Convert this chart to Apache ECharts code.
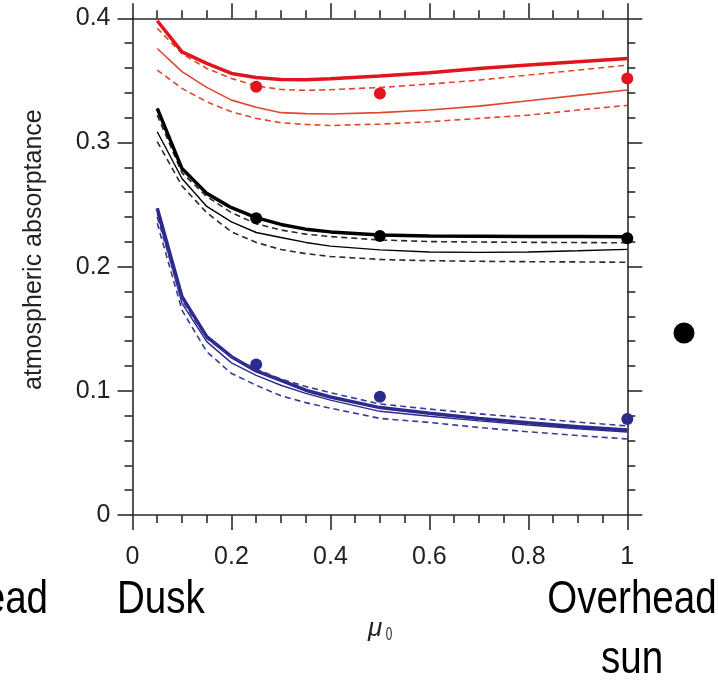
<!DOCTYPE html>
<html>
<head>
<meta charset="utf-8">
<script src="https://cdn.jsdelivr.net/npm/echarts@6/dist/echarts.min.js"></script>
<style>
html,body{margin:0;padding:0;background:#fff;}
#c{width:718px;height:680px;}
</style>
</head>
<body>
<div id="c"></div>
<script>
// x positions (mu_0) of model curves
var muX = [0.05, 0.1, 0.15, 0.2, 0.25, 0.3, 0.35, 0.4, 0.5, 0.6, 0.7, 0.8, 0.9, 1.0];
// observation points
var obsX = [0.25, 0.5, 1.0];

// red group
var redThick   = [0.398, 0.373, 0.3637, 0.3556, 0.3524, 0.3508, 0.3505, 0.3513, 0.3535, 0.3561, 0.3596, 0.3623, 0.365, 0.3677];
var redDashHi  = [0.392, 0.3715, 0.3596, 0.3516, 0.3455, 0.3427, 0.342, 0.3425, 0.3443, 0.347, 0.3502, 0.3543, 0.3583, 0.3623];
var redThin    = [0.3757, 0.357, 0.3444, 0.3341, 0.3283, 0.324, 0.3232, 0.3229, 0.324, 0.3261, 0.3293, 0.3336, 0.3379, 0.3422];
var redDashLo  = [0.3583, 0.3436, 0.3328, 0.3247, 0.3194, 0.3159, 0.3145, 0.3137, 0.3148, 0.3167, 0.3194, 0.322, 0.3261, 0.3299];
var redObs     = [0.3449, 0.3395, 0.3516];

// black group
var blkThick   = [0.3275, 0.279, 0.259, 0.2475, 0.2395, 0.234, 0.2302, 0.228, 0.2254, 0.2246, 0.2244, 0.2242, 0.2242, 0.224];
var blkDashHi  = [0.322, 0.2755, 0.2565, 0.2435, 0.2345, 0.2295, 0.2262, 0.2242, 0.2215, 0.2202, 0.2198, 0.2196, 0.2194, 0.2192];
var blkThin    = [0.3086, 0.271, 0.2485, 0.236, 0.2275, 0.2235, 0.2195, 0.2165, 0.2135, 0.2118, 0.2115, 0.2118, 0.2128, 0.2139];
var blkDashLo  = [0.3006, 0.265, 0.2435, 0.228, 0.2195, 0.2138, 0.2105, 0.2082, 0.2058, 0.2048, 0.2043, 0.204, 0.2038, 0.2035];
var blkObs     = [0.2389, 0.2246, 0.2228];

// blue group
var bluThick   = [0.247, 0.1758, 0.1436, 0.1275, 0.116, 0.1085, 0.1005, 0.095, 0.0865, 0.0819, 0.0778, 0.0743, 0.0711, 0.0684];
var bluDashHi  = [0.240, 0.1731, 0.142, 0.1275, 0.1175, 0.1095, 0.1035, 0.0985, 0.0894, 0.0853, 0.0815, 0.0782, 0.0748, 0.0717];
var bluThin    = [0.243, 0.1705, 0.1396, 0.1225, 0.1125, 0.1045, 0.098, 0.0925, 0.0835, 0.0795, 0.0758, 0.0725, 0.0695, 0.0668];
var bluDashLo  = [0.2349, 0.165, 0.1315, 0.114, 0.1045, 0.096, 0.0905, 0.086, 0.0778, 0.0745, 0.0705, 0.067, 0.064, 0.0612];
var bluObs     = [0.1213, 0.0953, 0.0773];

var xTicks = [0, 0.2, 0.4, 0.6, 0.8, 1];
var yTicks = [0, 0.1, 0.2, 0.3, 0.4];

function pairs(xs, ys){ return xs.map(function(x,i){ return [x, ys[i]]; }); }

function lineS(name, ys, color, width, dash, z){
  return {
    name: name, type: 'line', data: pairs(muX, ys), showSymbol: false, symbol: 'none',
    smooth: false, z: z, silent: true,
    lineStyle: { color: color, width: width, type: dash ? [6,4] : 'solid', opacity: 1 }
  };
}
function dotS(name, ys, color){
  return {
    name: name, type: 'scatter', data: pairs(obsX, ys), symbol: 'circle', symbolSize: 12, z: 10,
    itemStyle: { color: color, opacity: 1 }
  };
}

var RED = '#e2141c', RED2 = '#e0482a', BLK = '#000000', BLK2 = '#2a2a2a', BLU = '#2c2a8c', BLU2 = '#3b3a99';
var axisColor = '#2a2a2a';
var sans = "'Liberation Sans', Arial, Helvetica, sans-serif";

function xAx(pos, showLabel){
  return {
    type: 'value', position: pos, min: 0, max: 1, interval: 0.2,
    axisLine: { show: true, onZero: false, lineStyle: { color: axisColor, width: 1.6 } },
    axisTick: { show: true, inside: false, length: 15, lineStyle: { color: axisColor, width: 1.6 } },
    minorTick: { show: true, splitNumber: 4, length: 8, lineStyle: { color: axisColor, width: 1.6 } },
    splitLine: { show: false },
    axisLabel: { show: showLabel, margin: 30, fontSize: 25, color: '#222', fontFamily: sans }
  };
}
function yAx(pos, showLabel){
  return {
    type: 'value', position: pos, min: 0, max: 0.4, interval: 0.1,
    axisLine: { show: true, onZero: false, lineStyle: { color: axisColor, width: 1.6 } },
    axisTick: { show: true, inside: false, length: 15, lineStyle: { color: axisColor, width: 1.6 } },
    minorTick: { show: true, splitNumber: 5, length: 8, lineStyle: { color: axisColor, width: 1.6 } },
    splitLine: { show: false },
    axisLabel: { show: showLabel, margin: 22, fontSize: 25, color: '#222', fontFamily: sans },
    name: showLabel ? 'atmospheric absorptance' : '', nameLocation: 'middle', nameGap: 86,
    nameTextStyle: { fontSize: 25, color: '#222', fontFamily: sans, padding: [0,0,0,34] }
  };
}

var chart = echarts.init(document.getElementById('c'), null, { renderer: 'canvas' });
chart.setOption({
  backgroundColor: '#ffffff',
  animation: false,
  grid: { left: 132.5, right: 90.7, top: 18.3, bottom: 165, containLabel: false, outerBoundsMode: 'none' },
  xAxis: [ xAx('bottom', true), xAx('top', false) ],
  yAxis: [ yAx('left', true), yAx('right', false) ],
  series: [
    lineS('red dashed low', redDashLo, RED2, 1.6, true, 2),
    lineS('red thin', redThin, RED2, 1.6, false, 3),
    lineS('red dashed high', redDashHi, RED2, 1.6, true, 2),
    lineS('red thick', redThick, RED, 3.5, false, 4),
    lineS('black dashed low', blkDashLo, BLK2, 1.6, true, 2),
    lineS('black thin', blkThin, BLK, 1.4, false, 3),
    lineS('black dashed high', blkDashHi, BLK2, 1.6, true, 2),
    lineS('black thick', blkThick, BLK, 3.5, false, 4),
    lineS('blue dashed low', bluDashLo, BLU2, 1.6, true, 2),
    lineS('blue thin', bluThin, BLU, 1.4, false, 3),
    lineS('blue dashed high', bluDashHi, BLU2, 1.6, true, 5),
    lineS('blue thick', bluThick, BLU, 3.5, false, 4),
    dotS('red obs', redObs, RED),
    dotS('black obs', blkObs, BLK),
    dotS('blue obs', bluObs, BLU)
  ],
  graphic: [
    { type: 'text', x: 117, y: 570, scaleX: 0.82, style: { text: 'Dusk', font: '47px ' + sans, fill: '#000', textAlign: 'left', textVerticalAlign: 'top', lineHeight: 60 } },
    { type: 'text', x: 632, y: 570, scaleX: 0.82, style: { text: 'Overhead\nsun', font: '47px ' + sans, fill: '#000', textAlign: 'center', textVerticalAlign: 'top', lineHeight: 60 } },
    { type: 'text', x: 48, y: 570, scaleX: 0.82, style: { text: 'Overhead', font: '47px ' + sans, fill: '#000', textAlign: 'right', textVerticalAlign: 'top', lineHeight: 60 } },
    { type: 'text', x: 375, y: 629, style: { text: '\u03bc', font: 'italic 26px ' + sans, fill: '#222', textAlign: 'center', textVerticalAlign: 'middle' } },
    { type: 'text', x: 389, y: 635, scaleX: 0.65, style: { text: '0', font: '18px ' + sans, fill: '#222', textAlign: 'center', textVerticalAlign: 'middle' } },
    { type: 'circle', shape: { cx: 684, cy: 333, r: 10.5 }, style: { fill: '#000' } }
  ]
});
</script>
</body>
</html>
